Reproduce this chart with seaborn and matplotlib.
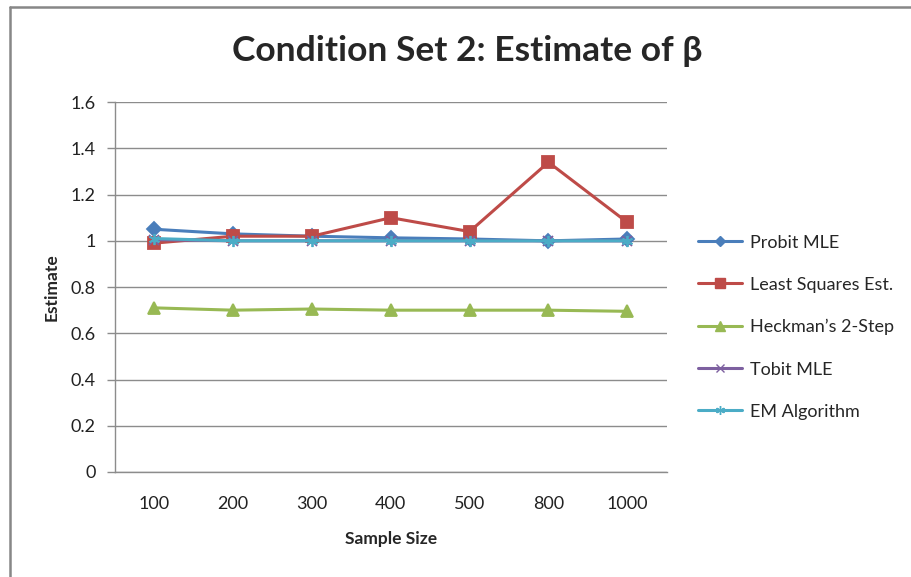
import matplotlib
matplotlib.use("Agg")
import matplotlib.pyplot as plt
from matplotlib.lines import Line2D
import seaborn as sns
import pandas as pd

sample_sizes = ["100", "200", "300", "400", "500", "800", "1000"]
series_names = ["Probit MLE", "Least Squares Est.", "Heckman\u2019s 2-Step", "Tobit MLE", "EM Algorithm"]
probit = [1.05, 1.03, 1.02, 1.013, 1.008, 1.0, 1.008]
least_squares = [0.99, 1.02, 1.02, 1.10, 1.04, 1.34, 1.08]
heckman = [0.71, 0.70, 0.705, 0.70, 0.70, 0.70, 0.695]
tobit = [1.005, 1.0, 1.0, 1.0, 1.0, 1.0, 1.0]
em = [1.01, 1.0, 1.0, 1.0, 1.0, 1.0, 1.0]

all_vals = [probit, least_squares, heckman, tobit, em]
rows = []
for name, vals in zip(series_names, all_vals):
    for i, (lab, v) in enumerate(zip(sample_sizes, vals)):
        rows.append({"pos": i, "Sample Size": lab, "Estimate": v, "series": name})
df = pd.DataFrame(rows)

colors = ["#4a7ebb", "#be4b48", "#98b954", "#7d60a0", "#4bacc6"]
marker_map = {series_names[0]: "D", series_names[1]: "s", series_names[2]: "^",
              series_names[3]: "x", series_names[4]: (6, 2, 0)}
size_map = {series_names[0]: 7, series_names[1]: 8.5, series_names[2]: 8.5,
            series_names[3]: 7, series_names[4]: 8}

sns.set_theme(style="white")
plt.rcParams["font.family"] = ["Lato", "DejaVu Sans"]

fig = plt.figure(figsize=(9.12, 5.77), dpi=100)
ax = fig.add_axes([0.126, 0.182, 0.605, 0.641])

for name, col in zip(series_names, colors):
    sub = df[df["series"] == name]
    sns.lineplot(data=sub, x="pos", y="Estimate", ax=ax, color=col, linewidth=2.2,
                 marker=marker_map[name], markersize=size_map[name],
                 markeredgecolor=col, markerfacecolor=col, markeredgewidth=1.3,
                 label=name, legend=False)

ax.set_xlim(-0.5, len(sample_sizes) - 0.5)
ax.set_ylim(0, 1.6)
ax.set_xticks(range(len(sample_sizes)))
ax.set_xticklabels(sample_sizes)
ax.set_yticks([0, 0.2, 0.4, 0.6, 0.8, 1.0, 1.2, 1.4, 1.6])
ax.set_yticklabels(["0", "0.2", "0.4", "0.6", "0.8", "1", "1.2", "1.4", "1.6"])
ax.yaxis.grid(True, color="#8c8c8c", linewidth=1.0)
ax.set_axisbelow(True)
for s in ["top", "right"]:
    ax.spines[s].set_visible(False)
for s in ["left", "bottom"]:
    ax.spines[s].set_color("#8c8c8c")
    ax.spines[s].set_linewidth(1.0)
ax.tick_params(axis="y", which="both", left=True, length=6, width=1.0, color="#8c8c8c",
               labelsize=13, pad=8, labelcolor="#222222")
ax.tick_params(axis="x", bottom=False, labelsize=13, pad=11, labelcolor="#222222")

ax.set_xlabel("Sample Size", fontsize=12.5, fontweight="bold", labelpad=14)
ax.set_ylabel("Estimate", fontsize=12.5, fontweight="bold", labelpad=8)

fig.text(0.512, 0.912, "Condition Set 2: Estimate of \u03b2", ha="center", va="center",
         fontsize=25.5, fontweight="bold")

handles = []
for name, col in zip(series_names, colors):
    handles.append(Line2D([0], [0], color=col, linewidth=2.2, marker=marker_map[name],
                          markersize=size_map[name] * 0.8, markeredgecolor=col,
                          markerfacecolor=col, label=name))
fig.legend(handles=handles, loc="center left", bbox_to_anchor=(0.748, 0.433),
           frameon=False, fontsize=13, labelspacing=1.45, handlelength=2.4,
           handletextpad=0.45)

fig.add_artist(Line2D([0.0105, 0.0105], [0.0, 0.988], transform=fig.transFigure,
                      color="#878787", linewidth=1.8))
fig.add_artist(Line2D([0.0105, 1.0], [0.988, 0.988], transform=fig.transFigure,
                      color="#878787", linewidth=1.8))

fig.savefig("out.png", dpi=100, facecolor="white")
